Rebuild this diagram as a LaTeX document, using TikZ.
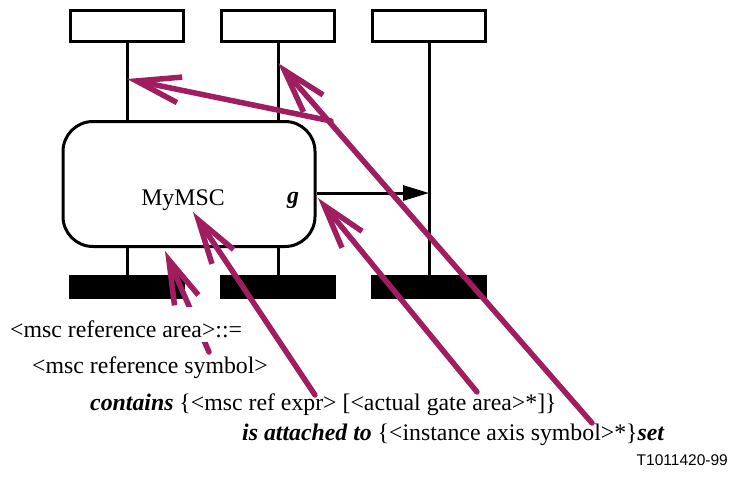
\documentclass[tikz,border=0pt]{standalone}
\usepackage{fontspec}
\setmainfont{Liberation Serif}
\newfontfamily\labelsans{Liberation Sans}
\usetikzlibrary{arrows.meta}
\definecolor{plum}{RGB}{160,30,95}
\begin{document}
\begin{tikzpicture}[x=1pt,y=-1pt,
  headbox/.style={draw,line width=3pt,minimum width=113pt,minimum height=31pt,inner sep=0pt},
  endbar/.style={fill=black,minimum width=116pt,minimum height=24pt,inner sep=0pt},
  axisline/.style={line width=3pt},
  refbox/.style={draw,line width=3pt,rounded corners=30pt,minimum width=252pt,minimum height=125pt,inner sep=0pt},
  txt/.style={font=\fontsize{23.8}{28}\selectfont,anchor=base west,inner sep=0pt},
  pointer/.style={draw=plum,line width=5.5pt,line cap=round,line join=round,-{Straight Barb[length=44pt,width=26pt,line width=5.5pt]}},
  msg/.style={line width=3pt,-{Triangle[length=26pt,width=15pt]}}
]
\useasboundingbox (0,0) rectangle (731,483);
% instance heads
\node[headbox] (h1) at (127,25.5) {};
\node[headbox] (h2) at (278,25.5) {};
\node[headbox] (h3) at (429,25.5) {};
% msc reference
\node[refbox] (ref) at (189,184) {};
% instance ends
\node[endbar] (e1) at (127,287) {};
\node[endbar] (e2) at (278,287) {};
\node[endbar] (e3) at (429,287) {};
% axes
\draw[axisline] (h1.south) -- (h1.south |- ref.north);
\draw[axisline] (h1.south |- ref.south) -- (e1.north);
\draw[axisline] (h2.south) -- (h2.south |- ref.north);
\draw[axisline] (h2.south |- ref.south) -- (e2.north);
\draw[axisline] (h3.south) -- (e3.north);
% gate message
\coordinate (gfrom) at (ref.east |- 0,193);
\coordinate (gto) at (h3.south |- 0,193);
\draw[msg] (gfrom) -- (gto);
\node[font=\fontsize{23.8}{28}\selectfont\bfseries\itshape,anchor=base,inner sep=0pt] (g) at (293,203) {g};
\node[font=\fontsize{23.8}{28}\selectfont,anchor=base,inner sep=0pt] (name) at (183,205) {MyMSC};
% coordinates of pointers
\coordinate (areapt) at (209,352);
\coordinate (refbot) at (165,251);
\coordinate (exprpt) at (315,395);
\coordinate (namept) at (193,212);
\coordinate (gatept) at (477,392);
\coordinate (gpt) at (318,198);
\coordinate (setpt) at (592,423);
\coordinate (axis2pt) at (278,63);
\coordinate (joint) at (331,121);
\coordinate (axis1pt) at (127,79);
% pointer hidden behind text
\draw[pointer] (areapt) -- (refbot);
% texts
\node[txt,fill=white,text height=30pt,text depth=5pt] (area) at (10,337) {<msc reference area>::=};
\node[txt] (sym) at (32,373) {<msc reference symbol>};
\node[txt] (cont) at (90,410) {\textbf{\textit{contains}} \{<msc ref expr> [<actual gate area>*]\}};
\node[txt] (att) at (242,440) {\textbf{\textit{is attached to}} \{<instance axis symbol>*\}\textbf{\textit{set}}};
\node[font=\labelsans\fontsize{15.5}{18}\selectfont,anchor=base east,inner sep=0pt] (tag) at (728,465) {T1011420-99};
% pointers
\draw[pointer] (exprpt) -- (namept);
\draw[pointer] (gatept) -- (gpt);
\draw[pointer] (setpt) -- (axis2pt);
\draw[pointer] (joint) -- (axis1pt);
\end{tikzpicture}
\end{document}
